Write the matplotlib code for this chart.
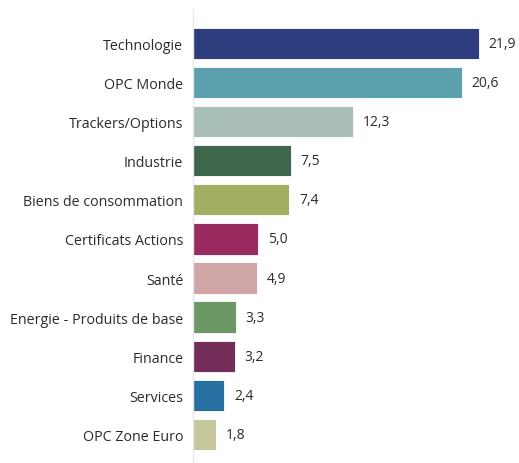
import matplotlib.pyplot as plt

categories = ["Technologie", "OPC Monde", "Trackers/Options", "Industrie",
              "Biens de consommation", "Certificats Actions", "Santé",
              "Energie - Produits de base", "Finance", "Services", "OPC Zone Euro"]
values = [21.9, 20.6, 12.3, 7.5, 7.4, 5.0, 4.9, 3.3, 3.2, 2.4, 1.8]
colors = ["#2E3D7E", "#5BA0AC", "#A9BFB6", "#3E664B", "#A3AE64", "#9A2B5E",
          "#CFA5A5", "#6B9864", "#722D58", "#2670A2", "#C6C69C"]

plt.rcParams['font.family'] = ['Open Sans', 'DejaVu Sans']

fig = plt.figure(figsize=(5.19, 4.64), dpi=100)
ax = fig.add_axes([193 / 519, 0, 1 - 193 / 519, 1 - 10 / 464])

ypos = list(range(len(categories)))
bars = ax.barh(ypos, values, height=0.8, color=colors, edgecolor="white", linewidth=0.6)

for y, v in zip(ypos, values):
    ax.text(v + 0.75, y, f"{v:.1f}".replace(".", ","), va="center", ha="left",
            fontsize=10, color="#2B2B2B")

ax.set_yticks(ypos)
ax.set_yticklabels(categories, fontsize=10.3, color="#2B2B2B")
ax.tick_params(axis="y", length=0, pad=7)
ax.set_xticks([])
ax.set_xlim(0, 25)
ax.set_ylim(10.73, -0.88)

for side in ["top", "right", "bottom"]:
    ax.spines[side].set_visible(False)
ax.spines["left"].set_color("#E6E6E6")
ax.spines["left"].set_linewidth(1)

fig.savefig("out.png", dpi=100)
